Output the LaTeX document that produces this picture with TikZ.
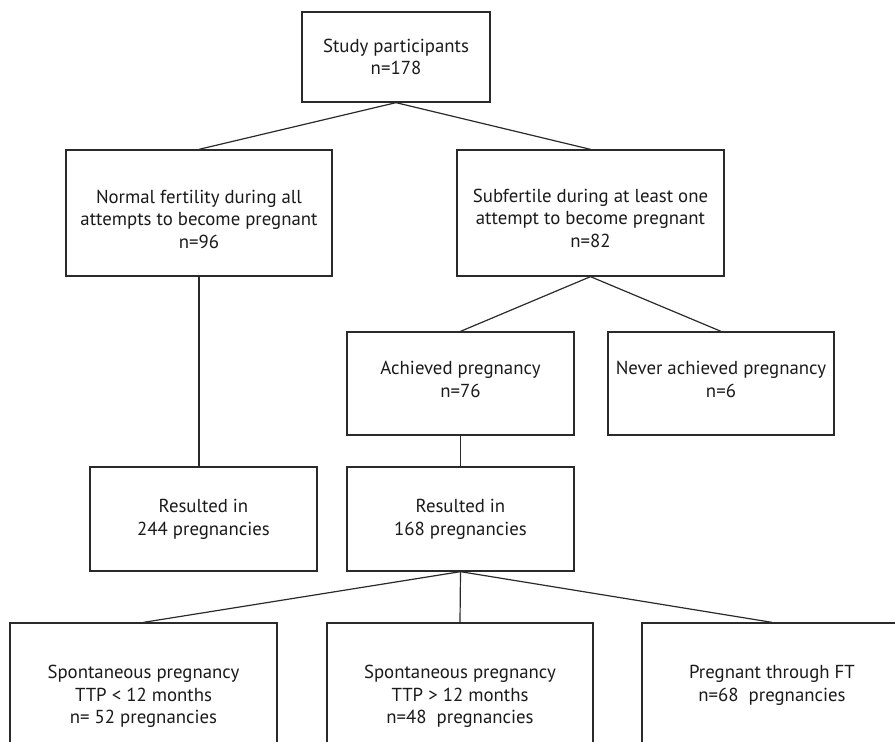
\documentclass[tikz,border=0pt]{standalone}
\usepackage{fontspec}
\setmainfont{PT Sans}
\usetikzlibrary{calc}
\definecolor{boxline}{HTML}{2A2A2A}
\definecolor{boxtext}{HTML}{1A1A1A}
\newcommand{\lift}[1]{\rule{0pt}{#1}}
\begin{document}
\begin{tikzpicture}[x=1pt, y=-1pt,
        box/.style={draw=boxline, line width=1.3pt, align=center, inner sep=0pt, text=boxtext,
            font=\fontsize{18.8}{22.7}\selectfont},
        link/.style={draw=boxline, line width=1.2pt}]%
        \useasboundingbox (0,0) rectangle (895,742);
        \clip (0,0) rectangle (895,742);
        \node [box, minimum width=188pt, minimum height=90pt] (top) at (396,57) {Study participants\\n=178};
        \node [box, minimum width=266pt, minimum height=126pt] (normal) at (199,213) {\lift{26pt}Normal fertility during all\\attempts to become pregnant\\n=96};
        \node [box, minimum width=267pt, minimum height=126pt] (subfert) at (590.5,213) {\lift{24pt}Subfertile during at least one\\attempt to become pregnant\\n=82};
        \node [box, minimum width=227pt, minimum height=103pt] (achieved) at (460.5,383.5) {Achieved pregnancy\\n=76\\[-14pt]};
        \node [box, minimum width=226pt, minimum height=103pt] (never) at (721,383.5) {Never achieved pregnancy\\n=6\\[-14pt]};
        \node [box, minimum width=227pt, minimum height=104pt] (res244) at (203.5,519) {Resulted in\\244 pregnancies};
        \node [box, minimum width=227pt, minimum height=104pt] (res168) at (460.5,519) {Resulted in\\168 pregnancies};
        \node [box, minimum width=267pt, minimum height=142pt] (spont1) at (143.5,694) {\lift{18pt}Spontaneous pregnancy\\TTP < 12 months\\n= 52 pregnancies};
        \node [box, minimum width=266pt, minimum height=142pt] (spont2) at (460,694) {\lift{18pt}Spontaneous pregnancy\\TTP > 12 months\\n=48~ pregnancies};
        \node [box, minimum width=260pt, minimum height=142pt] (treat) at (772,694) {Pregnant through FT\\n=68~ pregnancies\\[-1pt]};
        \foreach \a/\b in {top/normal, top/subfert, subfert/achieved, subfert/never, achieved/res168,
                res168/spont1, res168/spont2, res168/treat} {
            \draw [link] (\a.south) to (\b.north);
        }
        \draw [link] (normal.south) to (normal.south |- res244.north);
    \end{tikzpicture}
\end{document}
